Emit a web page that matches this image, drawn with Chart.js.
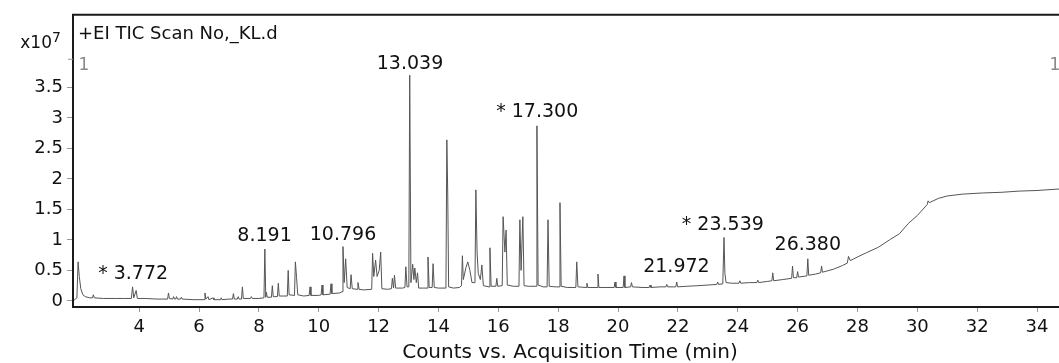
<!DOCTYPE html>
<html>
<head>
<meta charset="utf-8">
<script src="https://cdn.jsdelivr.net/npm/chart.js@4.4.1/dist/chart.umd.min.js"></script>
<style>
html, body { margin: 0; padding: 0; background: #fff; overflow: hidden; }
#wrap { position: relative; width: 1075px; height: 363px; }
</style>
</head>
<body>
<div id="wrap"><canvas id="tic"></canvas></div>
<script>
// TIC trace, acquisition time (min) vs counts (x10^7)
const retTime = [
  1.82, 1.92, 1.96, 2.00, 2.05, 2.12, 2.20, 2.35, 2.44, 2.47, 2.50, 2.80, 3.20, 3.50,
  3.74, 3.78, 3.82, 3.90, 3.94, 4.20, 4.60, 4.95, 4.98, 5.01, 5.12, 5.15, 5.18, 5.22,
  5.25, 5.28, 5.38, 5.41, 5.44, 5.80, 6.17, 6.20, 6.23, 6.30, 6.33, 6.47, 6.50, 6.72,
  6.74, 6.77, 7.00, 7.12, 7.15, 7.18, 7.28, 7.31, 7.34, 7.42, 7.45, 7.48, 7.72, 7.75,
  7.78, 8.00, 8.17, 8.20, 8.23, 8.25, 8.28, 8.42, 8.45, 8.48, 8.62, 8.65, 8.68, 8.95,
  8.98, 9.01, 9.19, 9.22, 9.26, 9.30, 9.50, 9.68, 9.71, 9.74, 10.00, 10.08, 10.11, 10.14,
  10.38, 10.41, 10.44, 10.70, 10.78, 10.81, 10.85, 10.90, 10.95, 11.05, 11.08, 11.12,
  11.28, 11.31, 11.35, 11.50, 11.77, 11.80, 11.84, 11.90, 11.95, 12.02, 12.07, 12.11,
  12.30, 12.43, 12.46, 12.50, 12.53, 12.57, 12.80, 12.88, 12.91, 12.95, 13.01, 13.04,
  13.08, 13.14, 13.18, 13.21, 13.26, 13.30, 13.34, 13.50, 13.62, 13.65, 13.69, 13.79,
  13.82, 13.86, 14.00, 14.25, 14.28, 14.31, 14.34, 14.50, 14.70, 14.77, 14.80, 14.83,
  14.92, 14.98, 15.05, 15.12, 15.22, 15.25, 15.29, 15.33, 15.40, 15.45, 15.50, 15.69,
  15.72, 15.76, 15.92, 15.95, 15.98, 16.13, 16.16, 16.22, 16.26, 16.30, 16.50, 16.69,
  16.72, 16.76, 16.82, 16.86, 17.00, 17.26, 17.29, 17.33, 17.50, 17.63, 17.66, 17.70,
  17.90, 18.03, 18.06, 18.10, 18.30, 18.59, 18.62, 18.66, 18.93, 18.96, 18.99, 19.30,
  19.33, 19.36, 19.60, 19.87, 19.90, 19.93, 20.17, 20.20, 20.23, 20.42, 20.45, 20.48,
  20.80, 21.04, 21.07, 21.10, 21.40, 21.60, 21.63, 21.66, 21.93, 21.96, 21.99, 22.30,
  22.70, 23.00, 23.30, 23.33, 23.36, 23.50, 23.54, 23.57, 23.61, 23.80, 24.04, 24.07,
  24.10, 24.40, 24.64, 24.67, 24.70, 25.00, 25.14, 25.17, 25.20, 25.50, 25.80, 25.83,
  25.86, 25.97, 26.00, 26.03, 26.31, 26.34, 26.37, 26.60, 26.77, 26.80, 26.83, 27.20,
  27.50, 27.66, 27.70, 27.76, 28.00, 28.30, 28.70, 29.10, 29.40, 29.70, 30.00, 30.33,
  30.36, 30.40, 30.70, 31.00, 31.50, 32.20, 32.80, 33.40, 34.00, 34.60, 35.00
];
const abundance = [
  0.01, 0.05, 0.64, 0.40, 0.20, 0.10, 0.07, 0.05, 0.05, 0.10, 0.05, 0.04, 0.04, 0.04,
  0.04, 0.23, 0.05, 0.17, 0.04, 0.04, 0.03, 0.03, 0.13, 0.04, 0.03, 0.07, 0.03, 0.03,
  0.07, 0.03, 0.03, 0.06, 0.03, 0.02, 0.02, 0.13, 0.03, 0.07, 0.02, 0.05, 0.02, 0.02,
  0.05, 0.02, 0.03, 0.03, 0.12, 0.03, 0.03, 0.07, 0.03, 0.03, 0.23, 0.04, 0.04, 0.07,
  0.04, 0.04, 0.05, 0.85, 0.06, 0.14, 0.06, 0.06, 0.25, 0.07, 0.07, 0.29, 0.08, 0.08,
  0.50, 0.10, 0.09, 0.64, 0.38, 0.10, 0.08, 0.09, 0.23, 0.09, 0.09, 0.10, 0.26, 0.10,
  0.11, 0.28, 0.12, 0.13, 0.15, 0.89, 0.30, 0.69, 0.22, 0.20, 0.43, 0.20,
  0.19, 0.30, 0.19, 0.18, 0.19, 0.78, 0.40, 0.67, 0.40, 0.50, 0.80, 0.20,
  0.19, 0.20, 0.37, 0.21, 0.42, 0.21, 0.21, 0.22, 0.56, 0.23, 0.23, 3.70,
  0.30, 0.60, 0.35, 0.54, 0.30, 0.46, 0.21, 0.21, 0.21, 0.72, 0.22, 0.22,
  0.61, 0.22, 0.21, 0.21, 2.64, 1.77, 0.23, 0.21, 0.22, 0.25, 0.74, 0.35,
  0.55, 0.64, 0.50, 0.30, 0.30, 1.82, 0.80, 0.45, 0.35, 0.59, 0.25, 0.23,
  0.87, 0.24, 0.24, 0.37, 0.24, 0.25, 1.38, 0.80, 1.16, 0.26, 0.24, 0.24,
  1.33, 0.50, 1.38, 0.25, 0.24, 0.24, 2.87, 0.26, 0.23, 0.23, 1.33, 0.24,
  0.23, 0.23, 1.61, 0.24, 0.22, 0.22, 0.64, 0.23, 0.22, 0.29, 0.22, 0.22,
  0.44, 0.22, 0.22, 0.22, 0.31, 0.22, 0.22, 0.41, 0.22, 0.23, 0.30, 0.23,
  0.22, 0.22, 0.26, 0.22, 0.23, 0.23, 0.27, 0.23, 0.23, 0.31, 0.23, 0.24,
  0.25, 0.26, 0.27, 0.31, 0.27, 0.28, 1.04, 0.45, 0.30, 0.29, 0.29, 0.33,
  0.29, 0.30, 0.30, 0.34, 0.30, 0.32, 0.33, 0.46, 0.33, 0.35, 0.37, 0.57,
  0.38, 0.38, 0.48, 0.39, 0.41, 0.69, 0.42, 0.44, 0.46, 0.57, 0.47, 0.52,
  0.58, 0.62, 0.73, 0.66, 0.72, 0.79, 0.88, 1.01, 1.10, 1.27, 1.40, 1.58,
  1.64, 1.61, 1.68, 1.72, 1.75, 1.77, 1.78, 1.80, 1.81, 1.83, 1.84
];

const xTickValues = [4, 6, 8, 10, 12, 14, 16, 18, 20, 22, 24, 26, 28, 30, 32, 34];
const yTickValues = [0, 0.5, 1, 1.5, 2, 2.5, 3, 3.5];

// peak annotations: text, centre time, centre level
const peakLabels = ["* 3.772", "8.191", "10.796", "13.039", "* 17.300", "21.972", "* 23.539", "26.380"];
const peakLabelTime = [3.80, 8.19, 10.81, 13.05, 17.30, 21.95, 23.50, 26.34];
const peakLabelLevel = [0.44, 1.07, 1.08, 3.89, 3.09, 0.55, 1.25, 0.91];

const FONT = "DejaVu Sans";

const ticText = {
  id: 'ticText',
  afterDraw(chart) {
    const ctx = chart.ctx;
    const a = chart.chartArea;
    const xs = chart.scales.x, ys = chart.scales.y;
    ctx.save();
    // frame: left, top, bottom
    ctx.strokeStyle = '#1a1a1a';
    ctx.lineWidth = 2;
    ctx.beginPath();
    ctx.moveTo(a.right + 10, a.top);
    ctx.lineTo(a.left, a.top);
    ctx.lineTo(a.left, a.bottom);
    ctx.lineTo(a.right + 10, a.bottom);
    ctx.stroke();

    // small marker near the top of the y axis
    ctx.strokeStyle = '#999';
    ctx.lineWidth = 1;
    ctx.beginPath();
    ctx.moveTo(a.left - 5, a.top + 44.5);
    ctx.lineTo(a.left, a.top + 44.5);
    ctx.stroke();

    // trace title
    ctx.fillStyle = '#111';
    ctx.textBaseline = 'middle';
    ctx.textAlign = 'left';
    ctx.font = '18px "' + FONT + '"';
    ctx.fillText('+EI TIC Scan No,_KL.d', a.left + 5, a.top + 20);

    // exponent label
    ctx.textAlign = 'right';
    ctx.font = '17px "' + FONT + '"';
    ctx.fillText('x10', a.left - 21, a.top + 29);
    ctx.font = '14px "' + FONT + '"';
    ctx.fillText('7', a.left - 12, a.top + 24);

    // chromatogram number markers
    ctx.fillStyle = '#8a8a8a';
    ctx.font = '17px "' + FONT + '"';
    ctx.textAlign = 'center';
    ctx.fillText('1', a.left + 11, a.top + 51);
    ctx.fillText('1', a.right - 12, a.top + 51);

    // peak labels
    ctx.fillStyle = '#111';
    ctx.font = '19px "' + FONT + '"';
    for (let i = 0; i < peakLabels.length; i++) {
      ctx.fillText(peakLabels[i], xs.getPixelForValue(peakLabelTime[i]), ys.getPixelForValue(peakLabelLevel[i]));
    }
    ctx.restore();
  }
};

const points = retTime.map((t, i) => ({x: t, y: abundance[i]}));

new Chart(document.getElementById('tic'), {
  type: 'line',
  data: {
    datasets: [{
      label: 'TIC',
      data: points,
      borderColor: '#555555',
      borderWidth: 1,
      pointRadius: 0,
      tension: 0,
      fill: false
    }]
  },
  options: {
    responsive: true,
    maintainAspectRatio: false,
    animation: false,
    layout: {padding: {top: 13, right: 8, left: 0, bottom: 0}},
    plugins: {legend: {display: false}, tooltip: {enabled: false}},
    scales: {
      x: {
        type: 'linear',
        min: 1.79,
        max: 35.0,
        afterBuildTicks: s => { s.ticks = xTickValues.map(v => ({value: v})); },
        afterFit: s => { s.height = 56; },
        grid: {drawOnChartArea: false, drawTicks: true, tickLength: 5, color: '#999'},
        border: {display: false},
        ticks: {
          color: '#111',
          font: {family: FONT, size: 18},
          padding: 5,
          maxRotation: 0,
          autoSkip: false,
          callback: v => String(v)
        },
        title: {
          display: true,
          text: 'Counts vs. Acquisition Time (min)',
          color: '#111',
          font: {family: FONT, size: 20, lineHeight: 1},
          padding: {top: 0, bottom: 0}
        }
      },
      y: {
        type: 'linear',
        min: -0.1,
        max: 4.69,
        afterBuildTicks: s => { s.ticks = yTickValues.map(v => ({value: v})); },
        afterFit: s => { s.width = 73; },
        grid: {drawOnChartArea: false, drawTicks: true, tickLength: 6, color: '#999'},
        border: {display: false},
        ticks: {
          color: '#111',
          font: {family: FONT, size: 18},
          padding: 4,
          callback: v => String(v)
        }
      }
    }
  },
  plugins: [ticText]
});
</script>
</body>
</html>
